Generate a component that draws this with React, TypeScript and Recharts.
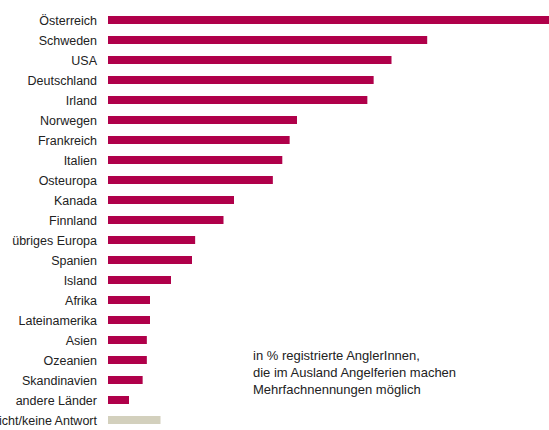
import React from 'react';
import { BarChart, Bar, XAxis, YAxis, Cell } from 'recharts';

// Reiseziele, in % (Österreich läuft über den Rand hinaus)
const countries = [
  'Österreich', 'Schweden', 'USA', 'Deutschland', 'Irland', 'Norwegen', 'Frankreich',
  'Italien', 'Osteuropa', 'Kanada', 'Finnland', 'übriges Europa', 'Spanien', 'Island',
  'Afrika', 'Lateinamerika', 'Asien', 'Ozeanien', 'Skandinavien', 'andere Länder',
  'weiß nicht/keine Antwort',
];
const shares = [
  50, 30.4, 27, 25.3, 24.7, 18, 17.3, 16.6, 15.7, 12, 11, 8.3, 8, 6, 4, 4, 3.7, 3.7, 3.3, 2, 5,
];
const noteLines = [
  'in % registrierte AnglerInnen,',
  'die im Ausland Angelferien machen',
  'Mehrfachnennungen möglich',
];

const MAIN = '#b0004a';
const OTHER = '#d3d0bd';
const FONT = '"Liberation Sans", Arial, Helvetica, sans-serif';

const data = countries.map((name, i) => ({ name, value: shares[i] }));

// plain one-line label, no wrapping (long label may run off the left edge like in the original)
const CountryTick = (props: any) => {
  const { x, y, payload } = props;
  return (
    <text x={x} y={y} dy="0.4em" textAnchor="end" fill="#222" fontSize={12.5} fontFamily={FONT}>
      {payload.value}
    </text>
  );
};

const App: React.FC = () => {
  return (
    <div style={{ position: 'absolute', left: 0, top: 0, width: 549, height: 430, overflow: 'hidden', fontFamily: FONT }}>
      <BarChart
        width={549}
        height={430}
        data={data}
        layout="vertical"
        margin={{ top: 10, right: 0, bottom: 0, left: 0 }}
        barCategoryGap={0}
      >
        <XAxis type="number" hide domain={[0, 42]} allowDataOverflow />
        <YAxis
          type="category"
          dataKey="name"
          width={108}
          interval={0}
          tickLine={false}
          axisLine={false}
          tickSize={6}
          tickMargin={5}
          tick={<CountryTick />}
        />
        <Bar dataKey="value" barSize={8} isAnimationActive={false}>
          {data.map((entry, index) => (
            <Cell key={`cell-${index}`} fill={index === data.length - 1 ? OTHER : MAIN} />
          ))}
        </Bar>
      </BarChart>
      <div
        style={{
          position: 'absolute',
          left: 253,
          top: 347,
          fontSize: 13,
          lineHeight: '17px',
          color: '#222',
          whiteSpace: 'nowrap',
        }}
      >
        {noteLines.map((line) => (
          <div key={line}>{line}</div>
        ))}
      </div>
    </div>
  );
};

export default App;
